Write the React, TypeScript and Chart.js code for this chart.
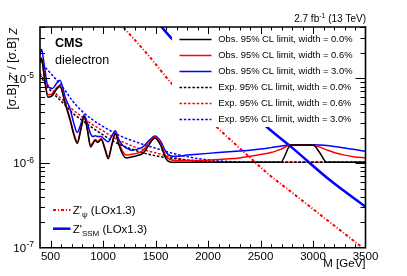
import React, { useEffect, useRef } from "react";
import { Chart, registerables } from "chart.js";

Chart.register(...registerables);

// ---------- data ----------
const obsMass = [400, 415, 440, 475, 520, 560, 590, 640, 690, 720, 755, 790, 820, 850, 882, 905, 926, 950, 983, 1015, 1050, 1085, 1117, 1150, 1190, 1225, 1270, 1320, 1380, 1440, 1494, 1550, 1600, 1640, 1700, 1800, 1900, 2000, 2100, 2200, 2300, 2400, 2500, 2600, 2690, 2790, 2900, 3000, 3060, 3130, 3200, 3300, 3400, 3500];

const obsWidth00 = [1.55e-5, 1.7e-5, 1.05e-5, 6.0e-6, 6.3e-6, 7.5e-6, 8.0e-6, 5.0e-6, 3.1e-6, 2.2e-6, 1.7e-6, 2.5e-6, 3.55e-6, 2.5e-6, 1.55e-6, 1.7e-6, 1.85e-6, 1.75e-6, 1.9e-6, 1.5e-6, 1.12e-6, 1.65e-6, 2.22e-6, 1.65e-6, 1.25e-6, 1.15e-6, 1.18e-6, 1.22e-6, 1.3e-6, 1.65e-6, 1.97e-6, 1.6e-6, 1.12e-6, 1.03e-6, 1.02e-6, 1.02e-6, 1.02e-6, 1.02e-6, 1.02e-6, 1.02e-6, 1.02e-6, 1.02e-6, 1.02e-6, 1.02e-6, 1.02e-6, 1.63e-6, 1.63e-6, 1.63e-6, 1.35e-6, 1.02e-6, 1.02e-6, 1.02e-6, 1.02e-6, 1.02e-6];

const obsWidth06 = [1.6e-5, 1.75e-5, 1.1e-5, 6.4e-6, 6.6e-6, 7.8e-6, 8.3e-6, 5.2e-6, 3.2e-6, 2.3e-6, 1.78e-6, 2.6e-6, 3.6e-6, 2.6e-6, 1.63e-6, 1.75e-6, 1.9e-6, 1.8e-6, 1.95e-6, 1.55e-6, 1.19e-6, 1.7e-6, 2.28e-6, 1.75e-6, 1.35e-6, 1.24e-6, 1.27e-6, 1.3e-6, 1.4e-6, 1.75e-6, 2.04e-6, 1.7e-6, 1.2e-6, 1.1e-6, 1.07e-6, 1.07e-6, 1.07e-6, 1.08e-6, 1.1e-6, 1.12e-6, 1.15e-6, 1.2e-6, 1.26e-6, 1.33e-6, 1.45e-6, 1.63e-6, 1.63e-6, 1.62e-6, 1.55e-6, 1.43e-6, 1.33e-6, 1.24e-6, 1.18e-6, 1.15e-6];

const obsWidth30 = [1.9e-5, 2.2e-5, 1.45e-5, 8.0e-6, 7.6e-6, 8.8e-6, 9.5e-6, 6.0e-6, 4.2e-6, 3.0e-6, 2.3e-6, 2.9e-6, 3.7e-6, 3.0e-6, 2.2e-6, 2.05e-6, 2.1e-6, 2.05e-6, 2.05e-6, 1.9e-6, 1.78e-6, 2.1e-6, 2.4e-6, 1.9e-6, 1.6e-6, 1.5e-6, 1.42e-6, 1.45e-6, 1.55e-6, 1.85e-6, 2.08e-6, 1.8e-6, 1.35e-6, 1.22e-6, 1.2e-6, 1.24e-6, 1.27e-6, 1.3e-6, 1.33e-6, 1.36e-6, 1.39e-6, 1.42e-6, 1.46e-6, 1.52e-6, 1.58e-6, 1.63e-6, 1.64e-6, 1.64e-6, 1.63e-6, 1.61e-6, 1.57e-6, 1.5e-6, 1.44e-6, 1.38e-6];

const expMass = [400, 450, 500, 550, 600, 650, 700, 800, 900, 1000, 1100, 1200, 1300, 1400, 1500, 1600, 1700, 1800, 1900, 2000, 2100, 2200, 2300, 2400, 2500, 3500];
const expWidth00 = [1.1e-5, 8.6e-6, 7.2e-6, 6.2e-6, 5.4e-6, 4.7e-6, 4.0e-6, 3.2e-6, 2.6e-6, 2.15e-6, 1.8e-6, 1.58e-6, 1.42e-6, 1.3e-6, 1.22e-6, 1.16e-6, 1.12e-6, 1.08e-6, 1.05e-6, 1.03e-6, 1.02e-6, 1.02e-6, 1.02e-6, 1.02e-6, 1.02e-6, 1.02e-6];
const expWidth06 = [1.15e-5, 9.2e-6, 7.7e-6, 6.6e-6, 5.8e-6, 5.1e-6, 4.4e-6, 3.5e-6, 2.85e-6, 2.4e-6, 2.0e-6, 1.75e-6, 1.55e-6, 1.42e-6, 1.32e-6, 1.22e-6, 1.14e-6, 1.09e-6, 1.06e-6, 1.04e-6, 1.03e-6, 1.02e-6, 1.02e-6, 1.02e-6, 1.02e-6, 1.02e-6];
const expWidth30 = [1.6e-5, 1.35e-5, 1.15e-5, 9.8e-6, 8.3e-6, 6.9e-6, 5.6e-6, 4.1e-6, 3.25e-6, 2.7e-6, 2.3e-6, 2.0e-6, 1.8e-6, 1.63e-6, 1.5e-6, 1.37e-6, 1.27e-6, 1.19e-6, 1.13e-6, 1.09e-6, 1.06e-6, 1.04e-6, 1.03e-6, 1.02e-6, 1.02e-6, 1.02e-6];

const psiMass = [1100, 1193, 1420, 1653, 1900, 2113, 2350, 2575, 2800, 3050, 3250, 3500];
const psiXsec = [5.57e-5, 4.04e-5, 1.95e-5, 8.73e-6, 4.35e-6, 2.45e-6, 1.32e-6, 7.4e-7, 4.48e-7, 2.56e-7, 1.64e-7, 9.4e-8];

const ssmMass = [1500, 1558, 1653, 2000, 2300, 2558, 2800, 3160, 3500];
const ssmXsec = [4.9e-5, 4.04e-5, 2.97e-5, 1.17e-5, 5.4e-6, 2.68e-6, 1.52e-6, 6.3e-7, 3.05e-7];

const xMin = 400;
const xMax = 3500;
const yMin = 1e-7;
const yMax = 4.04e-5;
const xTickLabels = [500, 1000, 1500, 2000, 2500, 3000, 3500];
const yTickExponents = [-7, -6, -5];

const legendLabels = [
  "Obs. 95% CL limit, width = 0.0%",
  "Obs. 95% CL limit, width = 0.6%",
  "Obs. 95% CL limit, width = 3.0%",
  "Exp. 95% CL limit, width = 0.0%",
  "Exp. 95% CL limit, width = 0.6%",
  "Exp. 95% CL limit, width = 3.0%",
];

// ---------- styles ----------
const FONT = '"Liberation Sans", Arial, Helvetica, sans-serif';
const BLACK = "#000000";
const RED = "#ff0000";
const BLUE = "#0000ff";
const EXP_DASH = [2.5, 1.8];
const PSI_DASH = [3, 2, 1, 2];

const toPts = (xs: number[], ys: number[]) => xs.map((x, i) => ({ x, y: ys[i] }));

const legendStyles = [
  { color: BLACK, dash: [] as number[] },
  { color: RED, dash: [] as number[] },
  { color: BLUE, dash: [] as number[] },
  { color: BLACK, dash: EXP_DASH },
  { color: RED, dash: EXP_DASH },
  { color: BLUE, dash: EXP_DASH },
];

function hLine(ctx: CanvasRenderingContext2D, x1: number, x2: number, y: number, color: string, w: number, dash: number[]) {
  ctx.save();
  ctx.beginPath();
  ctx.setLineDash(dash);
  ctx.strokeStyle = color;
  ctx.lineWidth = w;
  ctx.moveTo(x1, y);
  ctx.lineTo(x2, y);
  ctx.stroke();
  ctx.restore();
}

function seg(ctx: CanvasRenderingContext2D, x1: number, y1: number, x2: number, y2: number, w: number) {
  ctx.save();
  ctx.beginPath();
  ctx.setLineDash([]);
  ctx.strokeStyle = "#000000";
  ctx.lineWidth = w;
  ctx.moveTo(x1, y1);
  ctx.lineTo(x2, y2);
  ctx.stroke();
  ctx.restore();
}

type Part = { t: string; size: number; dy?: number; style?: string };
function drawParts(ctx: CanvasRenderingContext2D, parts: Part[], x: number, y: number) {
  let cx = x;
  for (const p of parts) {
    ctx.font = `${p.style ?? ""} ${p.size}px ${FONT}`;
    ctx.fillText(p.t, cx, y + (p.dy ?? 0));
    cx += ctx.measureText(p.t).width;
  }
  return cx - x;
}
function partsWidth(ctx: CanvasRenderingContext2D, parts: Part[]) {
  let w = 0;
  for (const p of parts) {
    ctx.font = `${p.style ?? ""} ${p.size}px ${FONT}`;
    w += ctx.measureText(p.t).width;
  }
  return w;
}

const overlay = {
  id: "overlay",
  afterDatasetsDraw(chart: any) {
    const ctx: CanvasRenderingContext2D = chart.ctx;
    const xs = chart.scales.x;
    const ys = chart.scales.y;
    const L = xs.getPixelForValue(xMin);
    const R = xs.getPixelForValue(xMax);
    const T = ys.getPixelForValue(yMax);
    const B = ys.getPixelForValue(yMin);

    ctx.save();
    // legend background (white box hides theory curves)
    ctx.fillStyle = "#ffffff";
    ctx.fillRect(172, T, R - 172, 127 - T);

    // frame
    seg(ctx, L, T, R, T, 1.6);
    seg(ctx, L, B, R, B, 1.6);
    seg(ctx, L, T - 0.8, L, B + 0.8, 1.6);
    seg(ctx, R, T - 0.8, R, B + 0.8, 1.6);

    // x ticks
    for (let m = 500; m < 3500; m += 100) {
      const px = Math.round(xs.getPixelForValue(m)) + 0.5;
      const len = m % 500 === 0 ? 7 : 3.5;
      seg(ctx, px, B, px, B - len, 1);
      seg(ctx, px, T, px, T + len, 1);
    }
    // y ticks
    for (let e = -7; e <= -5; e++) {
      for (let k = 1; k <= 9; k++) {
        const v = k * Math.pow(10, e);
        if (v <= yMin * 1.0001 || v > yMax) continue;
        const py = Math.round(ys.getPixelForValue(v)) + 0.5;
        const len = k === 1 ? 10 : 5;
        seg(ctx, L, py, L + len, py, 1);
        seg(ctx, R, py, R - len, py, 1);
      }
    }

    // legend (top right)
    ctx.textBaseline = "middle";
    ctx.textAlign = "left";
    legendLabels.forEach((lab, i) => {
      const yy = 39.5 + i * 16;
      hLine(ctx, 179.5, 211.5, yy, legendStyles[i].color, 1.5, legendStyles[i].dash);
      ctx.font = `9.4px ${FONT}`;
      ctx.fillStyle = "#000";
      ctx.fillText(lab, 218.3, yy);
    });

    // bottom-left legend
    hLine(ctx, 53, 70.5, 210, RED, 2, PSI_DASH);
    hLine(ctx, 53, 70.5, 228.7, BLUE, 2.5, []);
    ctx.textBaseline = "alphabetic";
    ctx.fillStyle = "#000";
    drawParts(ctx, [
      { t: "Z'", size: 11.5 },
      { t: "ψ", size: 8, dy: 3 },
      { t: " (LOx1.3)", size: 11.5 },
    ], 72.7, 214);
    drawParts(ctx, [
      { t: "Z'", size: 11.5 },
      { t: "SSM", size: 8, dy: 3 },
      { t: " (LOx1.3)", size: 11.5 },
    ], 72.7, 232.7);

    // x tick labels
    ctx.fillStyle = "#000";
    ctx.font = `11.5px ${FONT}`;
    ctx.textAlign = "center";
    ctx.textBaseline = "alphabetic";
    xTickLabels.forEach((m) => {
      ctx.fillText(String(m), xs.getPixelForValue(m), 260);
    });

    // y tick labels
    yTickExponents.forEach((e) => {
      const py = ys.getPixelForValue(Math.pow(10, e));
      ctx.textAlign = "right";
      ctx.font = `8.5px ${FONT}`;
      const sup = String(e);
      const supW = ctx.measureText(sup).width;
      const rx = 34;
      ctx.fillText(sup, rx, py - 0.3);
      ctx.font = `11.5px ${FONT}`;
      ctx.fillText("10", rx - supW - 0.3, py + 4.2);
    });

    // x axis title
    ctx.textAlign = "right";
    ctx.font = `11.5px ${FONT}`;
    ctx.fillText("M [GeV]", R, 267);

    // y axis title (rotated)
    ctx.save();
    ctx.translate(15.5, T + 1);
    ctx.rotate(-Math.PI / 2);
    ctx.textAlign = "left";
    const yParts: Part[] = [
      { t: "[σ.B]", size: 12 },
      { t: " Z'", size: 10.5, dy: 1.2, style: "italic" },
      { t: " / ", size: 12 },
      { t: "[σ.B]", size: 12 },
      { t: " Z", size: 10.5, dy: 1.2, style: "italic" },
    ];
    const yw = partsWidth(ctx, yParts);
    drawParts(ctx, yParts, -yw, 0);
    ctx.restore();

    // top-right lumi
    ctx.textAlign = "left";
    const lumiParts: Part[] = [
      { t: "2.7 fb", size: 10 },
      { t: "-1", size: 7, dy: -4 },
      { t: " (13 TeV)", size: 10 },
    ];
    const lw = partsWidth(ctx, lumiParts);
    drawParts(ctx, lumiParts, 366 - lw, 22);

    // CMS labels
    ctx.font = `bold 12.6px ${FONT}`;
    ctx.fillText("CMS", 55, 46.7);
    ctx.font = `12.5px ${FONT}`;
    ctx.fillText("dielectron", 55, 64);

    ctx.restore();
  },
};

export default function App() {
  const ref = useRef<HTMLCanvasElement | null>(null);
  useEffect(() => {
    document.body.style.margin = "0";
    const canvas = ref.current;
    if (!canvas) return;
    const obsDs = (data: number[], color: string) => ({
      data: toPts(obsMass, data),
      borderColor: color,
      borderWidth: 1.5,
      cubicInterpolationMode: "monotone" as const,
      pointRadius: 0,
      fill: false,
    });
    const expDs = (data: number[], color: string) => ({
      data: toPts(expMass, data),
      borderColor: color,
      borderWidth: 1.5,
      borderDash: EXP_DASH,
      cubicInterpolationMode: "monotone" as const,
      pointRadius: 0,
      fill: false,
    });
    const chart = new Chart(canvas, {
      type: "line",
      data: {
        datasets: [
          obsDs(obsWidth00, BLACK),
          obsDs(obsWidth06, RED),
          obsDs(obsWidth30, BLUE),
          expDs(expWidth00, BLACK),
          expDs(expWidth06, RED),
          expDs(expWidth30, BLUE),
          {
            data: toPts(psiMass, psiXsec),
            borderColor: RED,
            borderWidth: 2,
            borderDash: PSI_DASH,
            cubicInterpolationMode: "monotone",
            pointRadius: 0,
            fill: false,
          },
          {
            data: toPts(ssmMass, ssmXsec),
            borderColor: BLUE,
            borderWidth: 2.5,
            cubicInterpolationMode: "monotone",
            pointRadius: 0,
            fill: false,
          },
        ] as any,
      },
      options: {
        animation: false,
        responsive: false,
        maintainAspectRatio: false,
        events: [],
        layout: { padding: { left: 40, right: 41.5, top: 27, bottom: 28.3 } },
        scales: {
          x: { type: "linear", min: xMin, max: xMax, display: false },
          y: { type: "logarithmic", min: yMin, max: yMax, display: false },
        },
        plugins: { legend: { display: false }, tooltip: { enabled: false } },
      },
      plugins: [overlay],
    });
    return () => chart.destroy();
  }, []);
  return (
    <div style={{ width: 407, height: 276, background: "#fff" }}>
      <canvas ref={ref} width={407} height={276} style={{ display: "block", width: 407, height: 276 }} />
    </div>
  );
}
